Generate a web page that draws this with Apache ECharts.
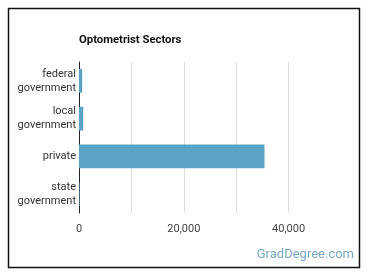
<!DOCTYPE html>
<html>
<head>
<meta charset="utf-8">
<script src="https://cdn.jsdelivr.net/npm/echarts@6/dist/echarts.min.js"></script>
<style>
  html, body { margin: 0; padding: 0; background: #fff; }
  #chart { width: 370px; height: 278px; }
</style>
</head>
<body>
<div id="chart"></div>
<script>
const categories = ['federal\ngovernment', 'local\ngovernment', 'private', 'state\ngovernment'];
const workers = [600, 800, 35400, 100];
const tickLabels = ['0', '20,000', '40,000'];

const chart = echarts.init(document.getElementById('chart'));
const option = {
  backgroundColor: '#fff',
  animation: false,
  title: {
    text: 'Optometrist Sectors',
    left: 74,
    top: 30,
    textStyle: { fontFamily: 'Roboto', fontSize: 11.3, fontWeight: 'bold', color: '#111' }
  },
  graphic: [
    {
      type: 'rect',
      shape: { x: 8.5, y: 8.5, width: 351, height: 259 },
      style: { fill: 'none', stroke: '#111', lineWidth: 1.5 }
    },
    {
      type: 'text',
      right: 16,
      top: 248,
      style: { text: 'GradDegree.com', fontFamily: 'Roboto', fontSize: 13, fill: '#76a7c3' }
    }
  ],
  grid: { left: 79, right: 29, top: 62, bottom: 65 },
  xAxis: {
    type: 'value',
    min: 0,
    max: 50000,
    interval: 10000,
    axisLine: { show: false },
    axisTick: { show: false },
    axisLabel: {
      color: '#444',
      fontFamily: 'Roboto',
      fontSize: 11,
      margin: 11,
      formatter: v => {
        const s = v.toLocaleString('en-US');
        return tickLabels.includes(s) ? s : '';
      }
    },
    splitLine: {
      lineStyle: { color: ['#ddd', '#ddd', '#ddd', '#ddd', '#ddd', 'transparent'], width: 1 }
    }
  },
  yAxis: {
    type: 'category',
    data: categories,
    inverse: true,
    axisLine: { lineStyle: { color: '#222', width: 1 } },
    axisTick: { show: false },
    axisLabel: {
      margin: 3,
      formatter: v => v.split('\n').map(s => '{r|' + s + '}').join('\n'),
      rich: {
        r: { width: 66, align: 'right', color: '#333', fontFamily: 'Roboto', fontSize: 11, lineHeight: 14 }
      }
    }
  },
  series: [
    {
      type: 'bar',
      data: workers,
      barWidth: '63%',
      itemStyle: { color: '#5ba3c4' }
    }
  ]
};
chart.setOption(option);
</script>
</body>
</html>
